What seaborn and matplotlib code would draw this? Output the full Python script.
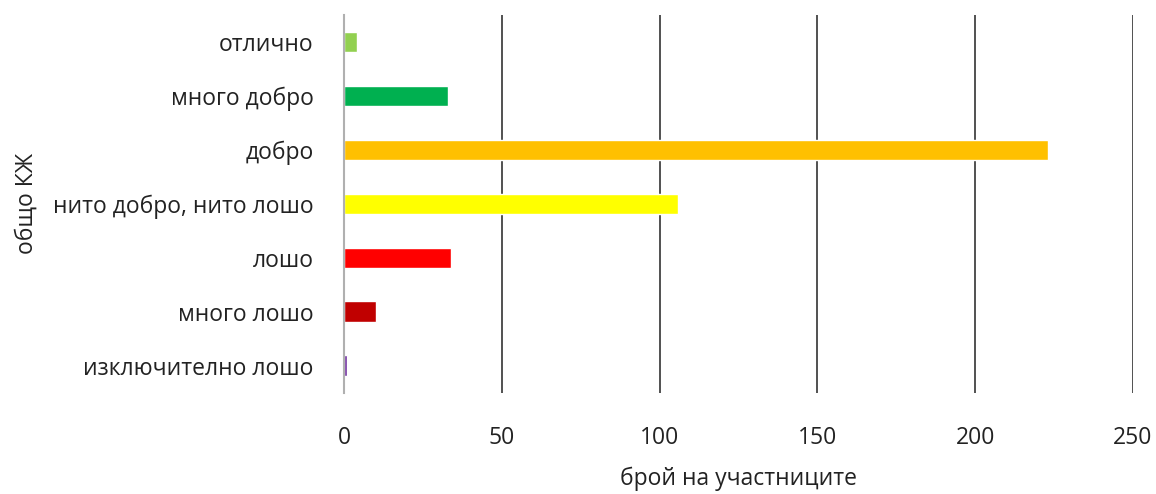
import matplotlib
matplotlib.use("Agg")
import matplotlib.pyplot as plt
import seaborn as sns
import pandas as pd

# data
categories = ["отлично", "много добро", "добро", "нито добро, нито лошо",
              "лошо", "много лошо", "изключително лошо"]
counts = [4, 33, 223, 106, 34, 10, 1]
colors = ["#92D050", "#00B050", "#FFC000", "#FFFF00", "#FF0000", "#C00000", "#7030A0"]
x_ticks = [0, 50, 100, 150, 200, 250]

sns.set_style("white")
plt.rcParams['font.family'] = ['Open Sans', 'DejaVu Sans']

df = pd.DataFrame({"category": categories, "count": counts})

fig, ax = plt.subplots(figsize=(11.56, 4.94), dpi=100)
fig.subplots_adjust(left=0.2976, right=0.98, top=0.97, bottom=0.205)

sns.barplot(data=df, y="category", x="count", hue="category",
            palette=colors, order=categories, hue_order=categories,
            width=0.38, legend=False, ax=ax, saturation=1)

ax.set_xlim(0, 250)
ax.set_xticks(x_ticks)
ax.set_ylim(len(categories) - 0.5, -0.5)
for v in x_ticks[1:]:
    ax.axvline(v, color="#333333", lw=1.2, zorder=0)

for s in ["top", "right", "bottom"]:
    ax.spines[s].set_visible(False)
ax.spines["left"].set_color("#b0b0b0")
ax.spines["left"].set_linewidth(1.5)

ax.tick_params(axis="both", length=0, labelsize=16.5, colors="#222222")
ax.tick_params(axis="x", pad=24)
ax.tick_params(axis="y", pad=22)
ax.set_xlabel("брой на участниците", fontsize=16.5, labelpad=12, color="#222222")
ax.set_ylabel("общо КЖ", fontsize=16.5, labelpad=10, color="#222222")

fig.savefig("out.png", dpi=100)
